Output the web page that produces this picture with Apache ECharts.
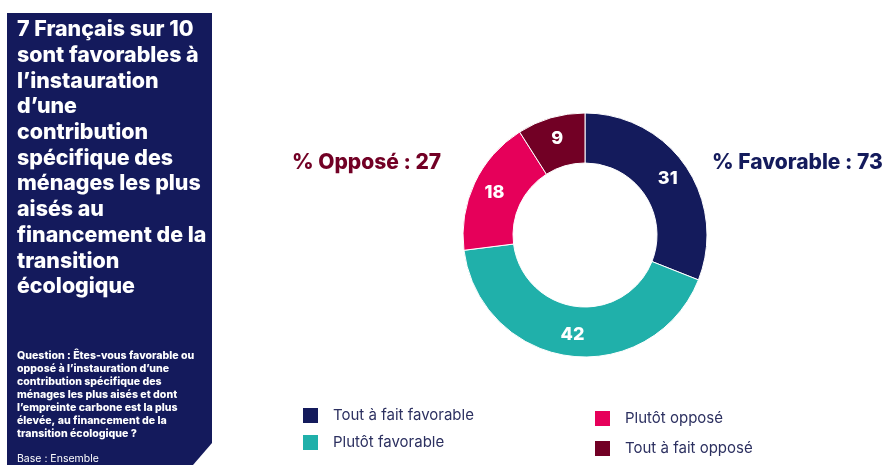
<!DOCTYPE html>
<html><head><meta charset="utf-8">
<script src="https://cdn.jsdelivr.net/npm/echarts@6/dist/echarts.min.js"></script>
<style>html,body{margin:0;padding:0;background:#fff}#c{width:887px;height:465px}</style>
</head><body><div id="c"></div>
<script>
const categories = ['Tout à fait favorable', 'Plutôt favorable', 'Plutôt opposé', 'Tout à fait opposé'];
const values = [31, 42, 18, 9];
const colors = ['#141b5c', '#20b0aa', '#e6005a', '#720025'];
const totalFavorable = 73;
const totalOppose = 27;
const titleLines = ['7 Français sur 10', 'sont favorables à', 'l’instauration', 'd’une', 'contribution', 'spécifique des', 'ménages les plus', 'aisés au', 'financement de la', 'transition', 'écologique'];
const questionLines = ['Question : Êtes-vous favorable ou', 'opposé à l’instauration d’une', 'contribution spécifique des', 'ménages les plus aisés et dont', 'l’empreinte carbone est la plus', 'élevée, au financement de la', 'transition écologique ?'];
const baseText = 'Base : Ensemble';

const chart = echarts.init(document.getElementById('c'));
const font = 'Inter, Roboto, sans-serif';
const option = {
  backgroundColor: '#ffffff',
  color: colors,
  animation: false,
  graphic: [
    { type: 'polygon', shape: { points: [[7,13],[212,13],[212,443],[193,465],[7,465]] }, style: { fill: '#141a5c' } },
    { type: 'text', left: 17, top: 17, style: { text: titleLines.join('\n'), fill: '#ffffff', font: '800 21.4px ' + font, lineHeight: 25.7 } },
    { type: 'text', left: 17, top: 349, style: { text: questionLines.join('\n'), fill: '#ffffff', font: '800 10.6px ' + font, lineHeight: 13 } },
    { type: 'text', left: 17, top: 453, style: { text: baseText, fill: '#ffffff', font: '10.5px ' + font } },
    { type: 'text', left: 292, top: 152, style: { text: '% Opposé : ' + totalOppose, fill: '#720025', font: '800 21px ' + font } },
    { type: 'text', left: 712, top: 152, style: { text: '% Favorable : ' + totalFavorable, fill: '#141b5c', font: '800 21px ' + font } }
  ],
  legend: [
    { data: categories.slice(0, 2), orient: 'vertical', left: 301, top: 406, padding: 0, height: 58, itemWidth: 17, itemHeight: 17, itemGap: 8, icon: 'rect',
      textStyle: { fontFamily: font, fontSize: 15, color: '#2c3060', padding: [0, 0, 0, 9] } },
    { data: categories.slice(2), orient: 'vertical', left: 593, top: 409, padding: 0, height: 56, itemWidth: 17, itemHeight: 17, itemGap: 11, icon: 'rect',
      textStyle: { fontFamily: font, fontSize: 15, color: '#2c3060', padding: [0, 0, 0, 9] } }
  ],
  series: [{
    type: 'pie',
    center: [585, 235],
    radius: [72, 122],
    startAngle: 90,
    clockwise: true,
    itemStyle: { borderColor: '#ffffff', borderWidth: 1 },
    label: { position: 'inside', color: '#ffffff', fontFamily: font, fontWeight: 800, fontSize: 18, formatter: '{c}' },
    labelLine: { show: false },
    data: categories.map((c, i) => ({ name: c, value: values[i] }))
  }]
};
chart.setOption(option);
</script></body></html>
